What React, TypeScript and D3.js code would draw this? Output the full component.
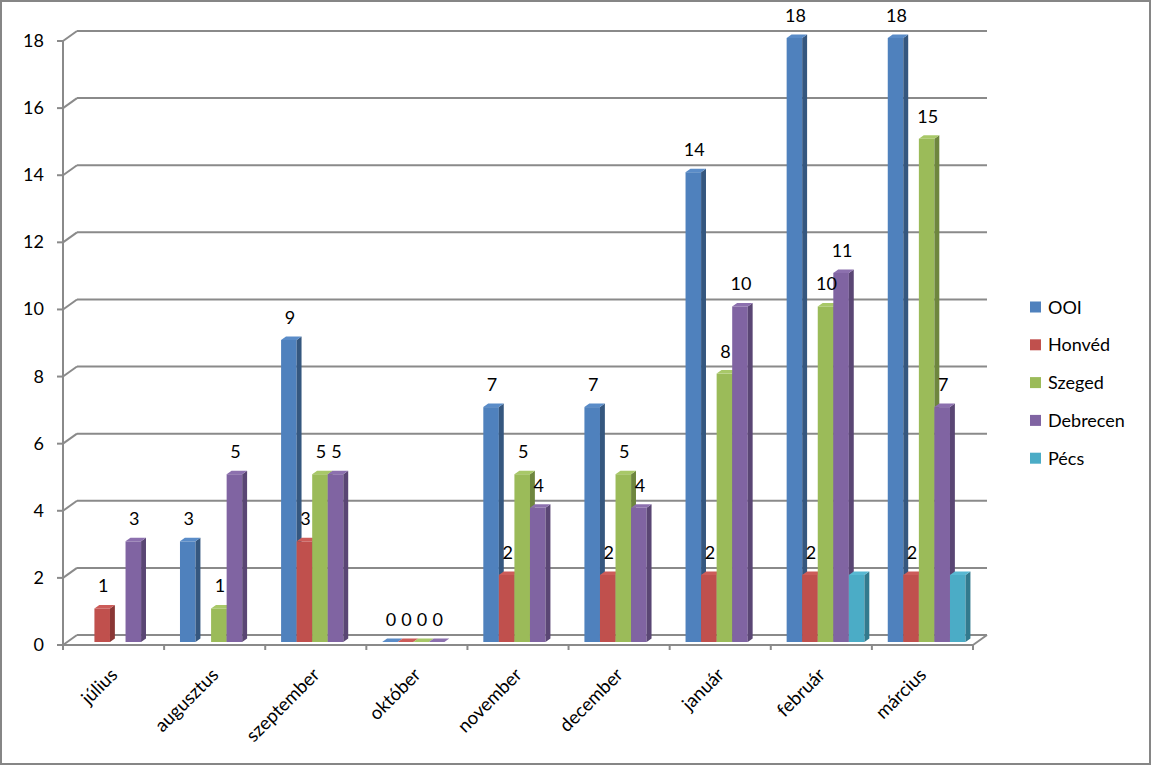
import React from "react";
import * as d3 from "d3";

const categories = ["július", "augusztus", "szeptember", "október", "november", "december", "január", "február", "március"];
const seriesNames = ["OOI", "Honvéd", "Szeged", "Debrecen", "Pécs"];
const ooi: (number | null)[] = [null, 3, 9, 0, 7, 7, 14, 18, 18];
const honved: (number | null)[] = [1, null, 3, 0, 2, 2, 2, 2, 2];
const szeged: (number | null)[] = [null, 1, 5, 0, 5, 5, 8, 10, 15];
const debrecen: (number | null)[] = [3, 5, 5, 0, 4, 4, 10, 11, 7];
const pecs: (number | null)[] = [null, null, null, null, null, null, null, 2, 2];
const yTicks = [0, 2, 4, 6, 8, 10, 12, 14, 16, 18];
const showLabels = [true, true, true, true, false];

const seriesValues = [ooi, honved, szeged, debrecen, pecs];
const frontColors = ["#4F81BD", "#C0504D", "#9BBB59", "#8064A2", "#4BACC6"];
const sideColors = ["#35577F", "#8A3735", "#6E863E", "#5A4674", "#327A8E"];
const topColors = ["#5A8CC8", "#CC5C59", "#A8C868", "#8C70AE", "#58B8D2"];

const FONT = "Lato, 'Liberation Sans', sans-serif";

export default function App() {
  const W = 1151, H = 765;
  const x0 = 63, x1 = 973;
  const DX = 14, DY = -10; // depth vector
  const y = d3.scaleLinear().domain([0, 18]).range([645, 41]);
  const xCat = d3.scaleBand<string>().domain(categories).range([x0, x1]).padding(0);
  const xSer = d3.scaleBand<string>().domain(seriesNames).range([0, xCat.bandwidth()]).paddingInner(0).paddingOuter(0.75);
  const f0 = 0.3, f1 = 0.65;
  const grid = "#8a8a8a";

  const bars: JSX.Element[] = [];
  const labels: JSX.Element[] = [];
  categories.forEach((c, ci) => {
    seriesValues.forEach((vals, si) => {
      const v = vals[ci];
      if (v === null || v === undefined) return;
      const bx = (xCat(c) as number) + (xSer(seriesNames[si]) as number) + f0 * DX;
      const bw = xSer.bandwidth();
      const yb = y(0) + f0 * DY;
      const yt = y(v) + f0 * DY;
      const ddx = (f1 - f0) * DX, ddy = (f1 - f0) * DY;
      const key = `${ci}-${si}`;
      bars.push(
        <g key={key}>
          {v > 0 && <rect x={bx} y={yt} width={bw} height={yb - yt} fill={frontColors[si]} />}
          {v > 0 && (
            <polygon
              points={`${bx + bw},${yt} ${bx + bw + ddx},${yt + ddy} ${bx + bw + ddx},${yb + ddy} ${bx + bw},${yb}`}
              fill={sideColors[si]}
            />
          )}
          <polygon
            points={`${bx},${yt} ${bx + ddx},${yt + ddy} ${bx + bw + ddx},${yt + ddy} ${bx + bw},${yt}`}
            fill={topColors[si]}
          />
        </g>
      );
      if (showLabels[si]) {
        labels.push(
          <text key={"l" + key} x={bx + bw / 2 + 1} y={yt - 16} textAnchor="middle" fontSize={18} fontFamily={FONT} fill="#000">
            {v}
          </text>
        );
      }
    });
  });

  return (
    <svg width={W} height={H} style={{ position: "absolute", left: 0, top: 0 }}>
      <rect x={1} y={1} width={W - 2} height={H - 2} fill="#fff" stroke="#868686" strokeWidth={2} />
      {yTicks.map((t) => (
        <g key={"g" + t}>
          <line x1={x0} y1={y(t)} x2={x0 + DX} y2={y(t) + DY} stroke={grid} strokeWidth={2} />
          <line x1={x0 + DX} y1={y(t) + DY} x2={x1 + DX} y2={y(t) + DY} stroke={grid} strokeWidth={2} />
          <line x1={x0 - 6} y1={y(t)} x2={x0} y2={y(t)} stroke={grid} strokeWidth={2} />
          <text x={44} y={y(t) + 6} textAnchor="end" fontSize={18} fontFamily={FONT} fill="#000">
            {t}
          </text>
        </g>
      ))}
      <line x1={x0} y1={y(0)} x2={x1} y2={y(0)} stroke={grid} strokeWidth={2} />
      <line x1={x1} y1={y(0)} x2={x1 + DX} y2={y(0) + DY} stroke={grid} strokeWidth={2} />
      <line x1={x0} y1={y(18)} x2={x0} y2={y(0)} stroke={grid} strokeWidth={2} />
      {categories.map((c) => (
        <line key={"t" + c} x1={xCat(c) as number} y1={y(0)} x2={xCat(c) as number} y2={y(0) + 5} stroke={grid} strokeWidth={2} />
      ))}
      <line x1={x1} y1={y(0)} x2={x1} y2={y(0) + 5} stroke={grid} strokeWidth={2} />
      {bars}
      {labels}
      {categories.map((c) => {
        const cx = (xCat(c) as number) + xCat.bandwidth() / 2 + 5;
        return (
          <text key={"x" + c} transform={`translate(${cx},${676}) rotate(-45)`} textAnchor="end" fontSize={18.5} fontFamily={FONT} fill="#000">
            {c}
          </text>
        );
      })}
      {seriesNames.map((s, i) => (
        <g key={"lg" + s} transform={`translate(1030,${307 + i * 37.8})`}>
          <rect x={0} y={-5.5} width={11} height={11} fill={frontColors[i]} />
          <text x={18} y={6.5} fontSize={18} fontFamily={FONT} fill="#000">
            {s}
          </text>
        </g>
      ))}
    </svg>
  );
}
